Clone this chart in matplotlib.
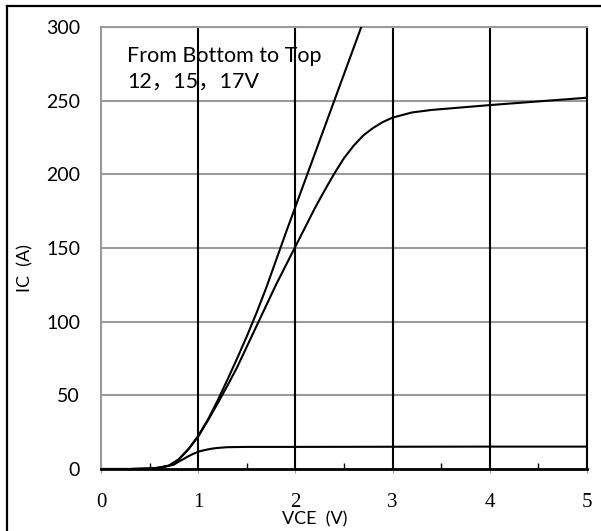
import numpy as np
import matplotlib
matplotlib.use("Agg")
import matplotlib.pyplot as plt
from matplotlib.lines import Line2D
from matplotlib.ticker import MultipleLocator

# output characteristics
vce_12 = [0, 0.3, 0.5, 0.6, 0.7, 0.75, 0.8, 0.85, 0.9, 0.95, 1.0, 1.05, 1.1, 1.15, 1.2, 1.3, 1.5, 2, 3, 4, 5]
ic_12 = [0, 0, 0.3, 0.9, 2.2, 3.0, 5.0, 6.8, 8.7, 10.3, 11.7, 12.6, 13.3, 13.9, 14.3, 14.8, 15, 15, 15.1, 15.2, 15.2]

vce_15 = [0, 0.3, 0.5, 0.6, 0.7, 0.8, 0.9, 1.0, 1.1, 1.2, 1.3, 1.4, 1.5, 1.6, 1.7, 1.8, 1.9, 2.0,
          2.1, 2.2, 2.3, 2.4, 2.5, 2.6, 2.7, 2.8, 2.9, 3.0, 3.2, 3.4, 3.6, 4.0, 4.5, 5.0]
ic_15 = [0, 0, 0.3, 0.9, 2.3, 6.5, 13.5, 22, 33, 44.5, 56.5, 69, 83, 97, 111, 125, 138, 151,
         164, 177, 189, 200.5, 211, 219.5, 226.5, 231.5, 235.5, 238.5, 242, 243.7, 244.8, 247, 249.5, 252]

vce_17 = [0, 0.3, 0.5, 0.6, 0.7, 0.8, 0.9, 1.0, 1.1, 1.2, 1.3, 1.4, 1.5, 1.6, 1.7, 1.8, 1.9, 2.0,
          2.1, 2.2, 2.3, 2.4, 2.5, 2.6, 2.7]
ic_17 = [0, 0, 0.3, 0.9, 2.3, 6.5, 13.5, 22.5, 33.5, 46.5, 60.5, 75, 90, 106, 123, 141.5, 160, 178,
         196, 214, 232, 250, 268, 286, 304]

xticks = [0, 1, 2, 3, 4, 5]
yticks = [0, 50, 100, 150, 200, 250, 300]

W, H = 601, 531
fig = plt.figure(figsize=(W/100, H/100), dpi=100)
ax = fig.add_axes([101/W, 1-469/H, 486/W, 442/H])

for x, y in [(vce_12, ic_12), (vce_15, ic_15), (vce_17, ic_17)]:
    ax.plot(x, y, color='black', lw=1.5, zorder=3, solid_joinstyle='round')

ax.set_xlim(0, 5)
ax.set_ylim(0, 300)
ax.set_xticks(xticks)
ax.set_yticks(yticks)
ax.xaxis.set_minor_locator(MultipleLocator(0.5))

# grid: grey horizontals, black verticals
for y in yticks[1:]:
    ax.axhline(y, color='#9a9a9a', lw=1.5, zorder=1)
for x in xticks[1:-1]:
    ax.axvline(x, color='black', lw=1.5, zorder=2)

for s in ['left', 'top']:
    ax.spines[s].set_color('#9a9a9a')
    ax.spines[s].set_linewidth(1.5)
ax.spines['right'].set_color('black')
ax.spines['right'].set_linewidth(1.5)
ax.spines['bottom'].set_color('black')
ax.spines['bottom'].set_linewidth(2)

ax.tick_params(axis='y', length=0, pad=15)
ax.tick_params(axis='x', which='major', direction='out', length=3, color='#9a9a9a', pad=14)
ax.tick_params(axis='x', which='minor', direction='in', length=4, color='black', width=1)

for lab in ax.get_yticklabels():
    lab.set_fontfamily('Lato')
    lab.set_fontsize(14)
for lab in ax.get_xticklabels():
    lab.set_fontfamily('Liberation Serif')
    lab.set_fontsize(15)

fig.text(315/W, 1-519/H, 'VCE  (V)', family='Lato', fontsize=13, ha='center', va='center')
fig.text(25/W, 1-268/H, 'IC  (A)', family='Lato', fontsize=13, ha='center', va='center', rotation=90)

ax.text((127-101)/486, (469-62)/442, 'From Bottom to Top', transform=ax.transAxes,
        family=['Lato', 'Noto Sans CJK SC'], fontsize=15.5, va='baseline', zorder=4)
ax.text((127-101)/486, (469-88)/442, '12，15，17V', transform=ax.transAxes,
        family=['Lato', 'Noto Sans CJK SC'], fontsize=15.5, va='baseline', zorder=4)

# outer frame (left and top edges visible)
fig.add_artist(Line2D([7/W, 7/W], [0, 1-6/H], color='black', lw=1.6, transform=fig.transFigure))
fig.add_artist(Line2D([7/W, 1], [1-6/H, 1-6/H], color='black', lw=1.6, transform=fig.transFigure))

fig.savefig('out.png', dpi=100)
